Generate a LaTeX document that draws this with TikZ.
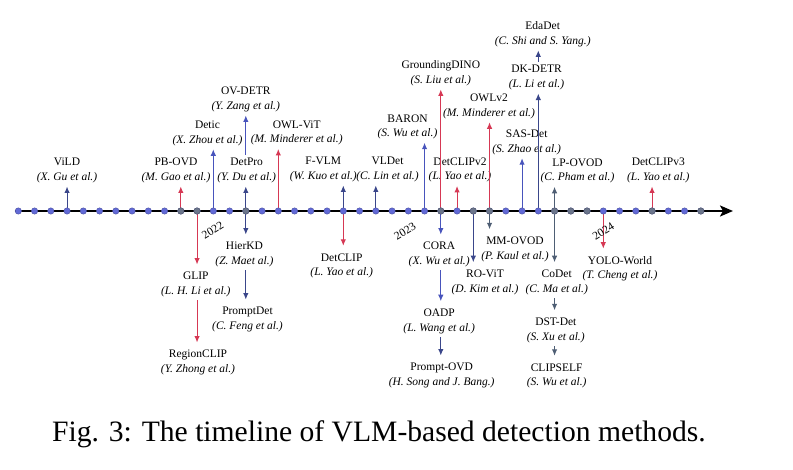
\documentclass[tikz,border=0pt]{standalone}
\usepackage{fontspec}
\setmainfont{Liberation Serif}
\usetikzlibrary{arrows.meta}
\definecolor{navy}{RGB}{58,70,138}
\definecolor{mblue}{RGB}{72,84,188}
\definecolor{mred}{RGB}{214,56,84}
\definecolor{slate}{RGB}{78,94,116}
\definecolor{dotblue}{RGB}{98,106,214}
\definecolor{dotgray}{RGB}{108,118,140}
\begin{document}
\begin{tikzpicture}[x=1pt,y=-1pt,
  lbl/.style={align=center, inner xsep=1pt, inner ysep=3.5pt, font=\fontsize{11.5}{14.5}\selectfont},
  yr/.style={font=\fontsize{11.5}{14}\selectfont, rotate=32, inner sep=0pt},
  con/.style={line width=1.1pt, -{Latex[length=6.5pt,width=5.5pt]}},
  dn/.style={con, shorten >=4pt},
  dotb/.style={circle, fill=dotblue, draw=dotblue!75!black, line width=0.4pt, inner sep=0pt, minimum size=6.4pt},
  dotg/.style={circle, fill=dotgray, draw=dotgray!75!black, line width=0.4pt, inner sep=0pt, minimum size=6.4pt}]
\fill[white] (0,0) rectangle (793,469);
\useasboundingbox (0,0) rectangle (793,469);
% axis coordinates
\foreach \i in {0,...,42} \coordinate (d\i) at ({18.3+16.25*\i},211);
\coordinate (axs) at (15,211);
\coordinate (axe) at (733,211);
% labels above
\node[lbl] (vild) at (67,170.5) {ViLD\\\textit{(X. Gu et al.)}};
\node[lbl] (pbovd) at (176,170.5) {PB-OVD\\\textit{(M. Gao et al.)}};
\node[lbl] (detic) at (207.5,133.3) {Detic\\\textit{(X. Zhou et al.)}};
\node[lbl] (ovdetr) at (245.8,99.5) {OV-DETR\\\textit{(Y. Zang et al.)}};
\node[lbl] (detpro) at (246.7,170.5) {DetPro\\\textit{(Y. Du et al.)}};
\node[lbl] (owlvit) at (296.7,133) {OWL-ViT\\\textit{(M. Minderer et al.)}};
\node[lbl] (fvlm) at (323.3,169.5) {F-VLM\\\textit{(W. Kuo et al.)}};
\node[lbl] (vldet) at (387.5,169.5) {VLDet\\\textit{(C. Lin et al.)}};
\node[lbl] (baron) at (407.5,126.7) {BARON\\\textit{(S. Wu et al.)}};
\node[lbl] (gdino) at (440.8,73.3) {GroundingDINO\\\textit{(S. Liu et al.)}};
\node[lbl] (detclipv2) at (460,170) {DetCLIPv2\\\textit{(L. Yao et al.)}};
\node[lbl] (owlv2) at (489,106.3) {OWLv2\\\textit{(M. Minderer et al.)}};
\node[lbl] (sasdet) at (526.7,142.2) {SAS-Det\\\textit{(S. Zhao et al.)}};
\node[lbl] (dkdetr) at (536.5,77.6) {DK-DETR\\\textit{(L. Li et al.)}};
\node[lbl] (edadet) at (542.7,34.2) {EdaDet\\\textit{(C. Shi and S. Yang.)}};
\node[lbl] (lpovod) at (577.5,170.8) {LP-OVOD\\\textit{(C. Pham et al.)}};
\node[lbl] (detclipv3) at (658.3,170.5) {DetCLIPv3\\\textit{(L. Yao et al.)}};
% labels below
\node[lbl] (glip) at (195.8,284.5) {GLIP\\\textit{(L. H. Li et al.)}};
\node[lbl] (regionclip) at (198,362.5) {RegionCLIP\\\textit{(Y. Zhong et al.)}};
\node[lbl] (hierkd) at (244.5,254.5) {HierKD\\\textit{(Z. Maet al.)}};
\node[lbl] (promptdet) at (247.5,319.5) {PromptDet\\\textit{(C. Feng et al.)}};
\node[lbl] (detclip) at (341.7,265.8) {DetCLIP\\\textit{(L. Yao et al.)}};
\node[lbl] (cora) at (439.2,254.5) {CORA\\\textit{(X. Wu et al.)}};
\node[lbl] (oadp) at (439.2,321.2) {OADP\\\textit{(L. Wang et al.)}};
\node[lbl] (promptovd) at (441.7,375.5) {Prompt-OVD\\\textit{(H. Song and J. Bang.)}};
\node[lbl] (rovit) at (485,282.2) {RO-ViT\\\textit{(D. Kim et al.)}};
\node[lbl] (mmovod) at (515,249.3) {MM-OVOD\\\textit{(P. Kaul et al.)}};
\node[lbl] (codet) at (556.7,282.2) {CoDet\\\textit{(C. Ma et al.)}};
\node[lbl] (dstdet) at (555.8,330.3) {DST-Det\\\textit{(S. Xu et al.)}};
\node[lbl] (clipself) at (556.7,375.8) {CLIPSELF\\\textit{(S. Wu et al.)}};
\node[lbl] (yoloworld) at (620,268.8) {YOLO-World\\\textit{(T. Cheng et al.)}};
% connectors above
\draw[con, navy] (d3) -- (d3 |- vild.south);
\draw[con, mred] (d10) -- (d10 |- pbovd.south);
\draw[con, mblue] (d12) -- (d12 |- detic.south);
\draw[con, navy] (d14) -- (d14 |- detpro.south);
\draw[con, mblue] (d14 |- detpro.north) -- (d14 |- ovdetr.south);
\draw[con, mred] (d16) -- (d16 |- owlvit.south);
\draw[con, navy] (d20) -- (d20 |- fvlm.south);
\draw[con, navy] (d22) -- (d22 |- vldet.south);
\draw[con, mblue] (d25) -- (d25 |- baron.south);
\draw[con, mred] (d26) -- (d26 |- gdino.south);
\draw[con, mred] (d27) -- (d27 |- detclipv2.south);
\draw[con, mred] (d29) -- (d29 |- owlv2.south);
\draw[con, mblue] (d31) -- (d31 |- sasdet.south);
\draw[con, navy] (d32) -- (d32 |- dkdetr.south);
\draw[con, navy] (d32 |- dkdetr.north) -- (d32 |- edadet.south);
\draw[con, slate] (d33) -- (d33 |- lpovod.south);
\draw[con, mred] (d39) -- (d39 |- detclipv3.south);
% connectors below
\draw[dn, mred] (d11) -- (d11 |- glip.north);
\draw[dn, mred] (d11 |- glip.south) -- (d11 |- regionclip.north);
\draw[dn, navy] (d14) -- (d14 |- hierkd.north);
\draw[dn, navy] (d14 |- hierkd.south) -- (d14 |- promptdet.north);
\draw[dn, mred] (d20) -- (d20 |- detclip.north);
\draw[dn, mblue] (d26) -- (d26 |- cora.north);
\draw[dn, mblue] (d26 |- cora.south) -- (d26 |- oadp.north);
\draw[dn, navy] (d26 |- oadp.south) -- (d26 |- promptovd.north);
\draw[dn, navy] (d28) -- (d28 |- rovit.north);
\draw[dn, slate] (d29) -- (d29 |- mmovod.north);
\draw[dn, slate] (d33) -- (d33 |- codet.north);
\draw[dn, slate] (d33 |- codet.south) -- (d33 |- dstdet.north);
\draw[dn, slate] (d33 |- dstdet.south) -- (d33 |- clipself.north);
\draw[dn, mred] (d36) -- (d36 |- yoloworld.north);
% axis
\draw[line width=2.2pt, -{Stealth[length=13pt,width=11pt,inset=3pt]}] (axs) -- (axe);
\foreach \i in {0,...,42} {
  \node[dotb] (p\i) at (d\i) {};
}
\foreach \i in {10,11,14,26,28,29,33,34,35,39,42} {
  \node[dotg] (q\i) at (d\i) {};
}
% years
\node[yr] (y2022) at (212.7,230) {2022};
\node[yr] (y2023) at (405,231.7) {2023};
\node[yr] (y2024) at (603.3,231) {2024};
% caption
\node[anchor=base west, inner sep=0pt, font=\fontsize{29.6}{34}\selectfont] (cap) at (52,441.7) {Fig. 3: The timeline of VLM-based detection methods.};
\end{tikzpicture}
\end{document}
